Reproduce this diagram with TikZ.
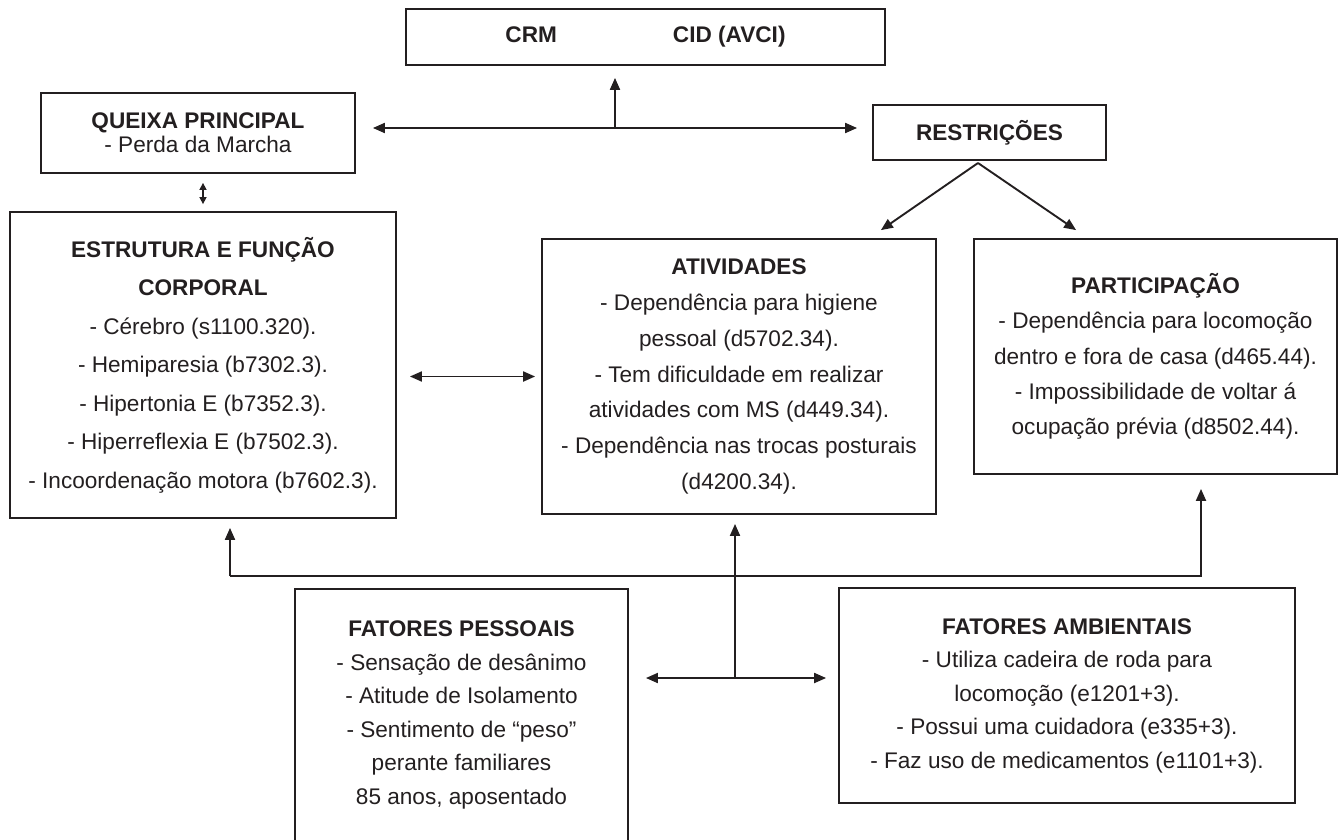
\documentclass[tikz,border=0pt]{standalone}
\usepackage{fontspec}
\setmainfont{Liberation Sans}
\usetikzlibrary{arrows.meta}
\definecolor{ink}{HTML}{231F20}
\begin{document}
\begin{tikzpicture}[x=1pt,y=-1pt,
  box/.style={draw=ink, line width=1.8pt, inner sep=0pt, align=center, text=ink},
  ls/.style={font=\fontsize{22.6}{#1}\selectfont},
  conn/.style={draw=ink, line width=1.9pt, -{Triangle[length=12pt,width=10pt]}},
  dconn/.style={draw=ink, line width=1.9pt, {Triangle[length=12pt,width=10pt]}-{Triangle[length=12pt,width=10pt]}},
  sconn/.style={draw=ink, line width=1.5pt, {Triangle[length=7pt,width=7pt]}-{Triangle[length=7pt,width=7pt]}}
]
\useasboundingbox (0,0) rectangle (1340,839);
\clip (0,0) rectangle (1340,839);

\node[box, minimum width=479pt, minimum height=56pt, ls=24] (cid) at (645.5,37)
  {\textbf{CRM}\hspace{116pt}\textbf{CID (AVCI)}};
\node[box, minimum width=314pt, minimum height=80pt, ls=24] (queixa) at (198,133)
  {\textbf{QUEIXA PRINCIPAL}\\- Perda da Marcha};
\node[box, minimum width=233pt, minimum height=55pt, ls=24] (restr) at (989.5,132.5)
  {\textbf{RESTRIÇÕES}};
\node[box, minimum width=386pt, minimum height=306pt, ls=38.5] (estr) at (203,365)
  {\textbf{ESTRUTURA E FUNÇÃO}\\\textbf{CORPORAL}\\- Cérebro (s1100.320).\\- Hemiparesia (b7302.3).\\- Hipertonia E (b7352.3).\\- Hiperreflexia E (b7502.3).\\- Incoordenação motora (b7602.3).};
\node[box, minimum width=394pt, minimum height=275pt, ls=35.8] (ativ) at (739,376.5)
  {\textbf{ATIVIDADES}\\- Dependência para higiene\\pessoal (d5702.34).\\- Tem dificuldade em realizar\\atividades com MS (d449.34).\\- Dependência nas trocas posturais\\(d4200.34).};
\node[box, minimum width=363pt, minimum height=235pt, ls=35.2] (part) at (1155.5,356.5)
  {\textbf{PARTICIPAÇÃO}\\- Dependência para locomoção\\dentro e fora de casa (d465.44).\\- Impossibilidade de voltar á\\ocupação prévia (d8502.44).};
\node[box, minimum width=333pt, minimum height=252pt, ls=33.6] (pess) at (461.5,715)
  {\textbf{FATORES PESSOAIS}\\- Sensação de desânimo\\- Atitude de Isolamento\\- Sentimento de “peso”\\perante familiares\\85 anos, aposentado};
\node[box, minimum width=456pt, minimum height=215pt, ls=33.5] (amb) at (1067,695.5)
  {\textbf{FATORES AMBIENTAIS}\\- Utiliza cadeira de roda para\\locomoção (e1201+3).\\- Possui uma cuidadora (e335+3).\\- Faz uso de medicamentos (e1101+3).};

% top connectors
\coordinate (j1) at (615,128);
\draw[conn, shorten >=12pt] (j1) -- (j1 |- cid.south);
\draw[conn, shorten >=15pt] (j1) -- (j1 -| restr.west);
\draw[conn, shorten >=17pt] (j1) -- (j1 -| queixa.east);

% queixa <-> estrutura
\draw[sconn, shorten <=9pt, shorten >=7pt] (queixa.south -| estr.north) -- (estr.north);

% restricoes -> atividades / participacao
\coordinate (ap) at (978,163);
\draw[conn] (ap) -- ([xshift=-56pt,yshift=8pt]ativ.north east);
\draw[conn] (ap) -- ([xshift=103pt,yshift=8pt]part.north west);

% estrutura <-> atividades
\draw[dconn, shorten <=13pt, shorten >=6pt] (estr.east |- ativ.west) -- (ativ.west);

% bottom network
\coordinate (bl) at (230,576);
\coordinate (br) at (1201,576);
\coordinate (hub) at (735,678);
\draw[conn, shorten >=9pt] (bl) -- (bl |- estr.south);
\draw[conn, shorten >=14pt, line join=miter] (bl) -- (br) -- (br |- part.south);
\draw[conn, shorten >=9pt] (hub) -- (hub |- ativ.south);
\draw[dconn, shorten <=17pt, shorten >=12pt] (pess.east |- hub) -- (amb.west |- hub);
\end{tikzpicture}
\end{document}
